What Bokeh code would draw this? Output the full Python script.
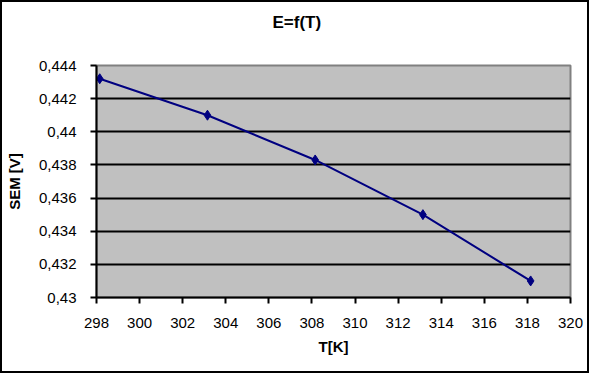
from bokeh.plotting import figure
from bokeh.models import Range1d, FixedTicker, CustomJSTickFormatter
from bokeh.embed import file_html
from bokeh.resources import INLINE

# data
temperature_K = [298.15, 303.15, 308.15, 313.15, 318.15]
sem_V = [0.4432, 0.4410, 0.4383, 0.4350, 0.4310]
x_ticks = [298, 300, 302, 304, 306, 308, 310, 312, 314, 316, 318, 320]
y_ticks = [0.430, 0.432, 0.434, 0.436, 0.438, 0.440, 0.442, 0.444]
title_text = "E=f(T)"
x_label = "T[K]"
y_label = "SEM [V]"

FONT = "Liberation Sans"

p = figure(frame_width=474, frame_height=232,
           min_border_left=92, min_border_right=17,
           min_border_top=63, min_border_bottom=74,
           x_range=Range1d(298, 320), y_range=Range1d(0.430, 0.444),
           output_backend="svg", toolbar_location=None)

p.background_fill_color = "#C0C0C0"
p.border_fill_color = "white"
p.outline_line_color = "#808080"
p.outline_line_width = 2
p.styles = {"border": "2px solid black"}

# second (empty) line lifts the title towards the top of the chart
p.title.text = title_text + "\n"
p.title.align = "left"
p.title.offset = 176
p.title.text_font = FONT
p.title.text_font_size = "17px"
p.title.text_font_style = "bold"
p.title.text_color = "black"
p.title.text_line_height = 1.5
p.title.standoff = 10

p.xgrid.grid_line_color = None
p.ygrid.grid_line_color = "black"
p.ygrid.grid_line_width = 2

p.xaxis.ticker = FixedTicker(ticks=x_ticks)
p.yaxis.ticker = FixedTicker(ticks=y_ticks)
p.yaxis.formatter = CustomJSTickFormatter(
    code="return tick.toFixed(3).replace(/0+$/, '').replace('.', ',');")

for ax in (p.xaxis[0], p.yaxis[0]):
    ax.axis_line_color = "black"
    ax.axis_line_width = 2
    ax.major_tick_line_color = "black"
    ax.major_tick_line_width = 2
    ax.major_tick_out = 6
    ax.major_tick_in = 0
    ax.minor_tick_line_color = None
    ax.major_label_text_font = FONT
    ax.major_label_text_font_size = "15px"
    ax.major_label_text_color = "black"
    ax.axis_label_text_font = FONT
    ax.axis_label_text_font_size = "15px"
    ax.axis_label_text_font_style = "bold"
    ax.axis_label_text_color = "black"

p.xaxis.major_label_standoff = 14
p.xaxis.axis_label_standoff = 7
p.yaxis.major_label_standoff = 14
p.yaxis.axis_label_standoff = 13

p.xaxis.axis_label = x_label
p.yaxis.axis_label = y_label

p.line(temperature_K, sem_V, line_color="#000080", line_width=2)
p.scatter(temperature_K, sem_V, marker="diamond", size=10,
          fill_color="#000080", line_color="#000080")

open("out.html", "w").write(file_html(p, INLINE))
